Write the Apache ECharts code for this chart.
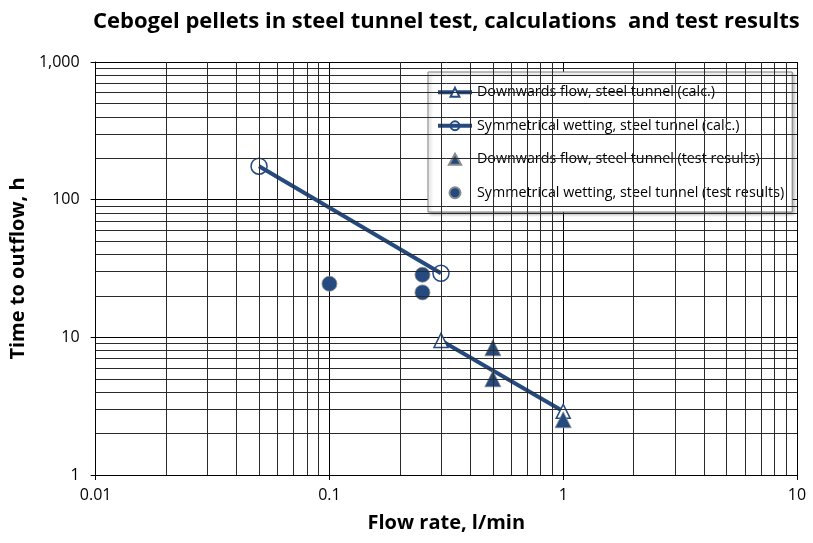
<!DOCTYPE html>
<html>
<head>
<meta charset="utf-8">
<script src="https://cdn.jsdelivr.net/npm/echarts@6/dist/echarts.min.js"></script>
<style>
  html, body { margin: 0; padding: 0; background: #fff; }
  #chart { width: 813px; height: 543px; }
</style>
</head>
<body>
<div id="chart"></div>
<script>
// Calculated curves: [flow rate l/min, time to outflow h]
const downwardsCalc = [[0.3, 9.5], [1, 2.9]];
const symmetricalCalc = [[0.05, 175], [0.3, 29.2]];
// Measured values from the tunnel tests
const downwardsTest = [[0.5, 8.4], [0.5, 5.0], [1, 2.52]];
const symmetricalTest = [[0.1, 24.5], [0.25, 28.5], [0.25, 21.2]];

const seriesNames = [
  'Downwards flow, steel tunnel (calc.)',
  'Symmetrical wetting, steel tunnel (calc.)',
  'Downwards flow, steel tunnel (test results)',
  'Symmetrical wetting, steel tunnel (test results)'
];

// Log-axis ranges and the in-between grid values for each decade
const xDecades = [0.01, 0.1, 1];
const yDecades = [1, 10, 100];
const steps = [2, 3, 4, 5, 6, 7, 8, 9];
const xMinor = xDecades.flatMap(d => steps.map(s => +(d * s).toPrecision(6)));
const yMinor = yDecades.flatMap(d => steps.map(s => +(d * s).toPrecision(6)));

const BLUE = '#244A80';
const FONT = '"Open Sans", sans-serif';
const TRIANGLE = 'path://M5,0 L10,9 L0,9 Z';

function fmt(v) {
  const r = Number(Number(v).toPrecision(6));
  return r >= 1000 ? r.toLocaleString('en-US') : String(r);
}

const chart = echarts.init(document.getElementById('chart'), null, { renderer: 'canvas' });

chart.setOption({
  animation: false,
  backgroundColor: '#fff',
  textStyle: { fontFamily: FONT },
  title: {
    text: 'Cebogel pellets in steel tunnel test, calculations  and test results',
    left: 88,
    top: 6,
    textStyle: { fontFamily: FONT, fontSize: 22, fontWeight: 'bold', color: '#000' }
  },
  grid: { left: 93, right: 16, top: 62, bottom: 68, containLabel: false },
  legend: {
    orient: 'vertical',
    left: 428,
    top: 72,
    data: [
      { name: seriesNames[0] },
      { name: seriesNames[1] },
      { name: seriesNames[2], icon: TRIANGLE },
      { name: seriesNames[3], icon: 'circle' }
    ],
    symbolKeepAspect: true,
    itemWidth: 34,
    itemHeight: 11,
    itemGap: 13,
    padding: [10, 8, 9, 8],
    backgroundColor: '#fff',
    borderColor: '#7f7f7f',
    borderWidth: 1,
    shadowColor: 'rgba(0,0,0,0.3)',
    shadowBlur: 3,
    shadowOffsetX: 2,
    shadowOffsetY: 2,
    lineStyle: { width: 4 },
    textStyle: { fontFamily: FONT, fontSize: 14.3, color: '#000', lineHeight: 20.5 }
  },
  xAxis: {
    type: 'log',
    logBase: 10,
    min: 0.01,
    max: 10,
    interval: 1,
    name: 'Flow rate, l/min',
    nameLocation: 'middle',
    nameGap: 38,
    nameTextStyle: { fontFamily: FONT, fontSize: 20, fontWeight: 'bold', color: '#000' },
    axisLine: { onZero: false, lineStyle: { color: '#000', width: 1 } },
    axisTick: { show: true, length: 5, lineStyle: { color: '#000' } },
    axisLabel: { formatter: fmt, fontSize: 16, color: '#000', margin: 12 },
    splitLine: { show: true, lineStyle: { color: '#000', width: 1 } },
    minorTick: { show: false },
    minorSplitLine: { show: false }
  },
  yAxis: {
    type: 'log',
    logBase: 10,
    min: 1,
    max: 1000,
    interval: 1,
    name: 'Time to outflow, h',
    nameLocation: 'middle',
    nameGap: 55,
    nameTextStyle: { fontFamily: FONT, fontSize: 20, fontWeight: 'bold', color: '#000' },
    axisLine: { onZero: false, lineStyle: { color: '#000', width: 1 } },
    axisTick: { show: true, length: 5, lineStyle: { color: '#000' } },
    axisLabel: { formatter: fmt, fontSize: 16, color: '#000', margin: 16 },
    splitLine: { show: true, lineStyle: { color: '#000', width: 1 } },
    minorTick: { show: false },
    minorSplitLine: { show: false }
  },
  series: [
    {
      // minor log grid lines (2..9 in every decade)
      name: 'grid',
      type: 'line',
      data: [],
      silent: true,
      z: 1,
      markLine: {
        silent: true,
        symbol: 'none',
        animation: false,
        label: { show: false },
        emphasis: { disabled: true },
        lineStyle: { color: '#2a2a2a', width: 1, type: 'solid' },
        data: xMinor.map(v => ({ xAxis: v })).concat(yMinor.map(v => ({ yAxis: v })))
      }
    },
    {
      name: seriesNames[0],
      type: 'line',
      data: downwardsCalc,
      z: 3,
      symbol: 'triangle',
      symbolSize: 14,
      showAllSymbol: true,
      lineStyle: { color: BLUE, width: 4 },
      itemStyle: { color: '#fff', borderColor: BLUE, borderWidth: 1.5 }
    },
    {
      name: seriesNames[1],
      type: 'line',
      data: symmetricalCalc,
      z: 3,
      symbol: 'circle',
      symbolSize: 16,
      lineStyle: { color: BLUE, width: 4 },
      itemStyle: { color: 'rgba(255,255,255,0)', borderColor: BLUE, borderWidth: 1.5 }
    },
    {
      name: seriesNames[2],
      type: 'scatter',
      data: downwardsTest,
      z: 4,
      symbol: 'triangle',
      symbolSize: 16,
      itemStyle: { color: BLUE, borderColor: '#8a8a8a', borderWidth: 0.8, opacity: 1 }
    },
    {
      name: seriesNames[3],
      type: 'scatter',
      data: symmetricalTest,
      z: 4,
      symbol: 'circle',
      symbolSize: 15,
      itemStyle: { color: BLUE, borderColor: '#8a8a8a', borderWidth: 0.8, opacity: 1 }
    }
  ]
});
</script>
</body>
</html>
